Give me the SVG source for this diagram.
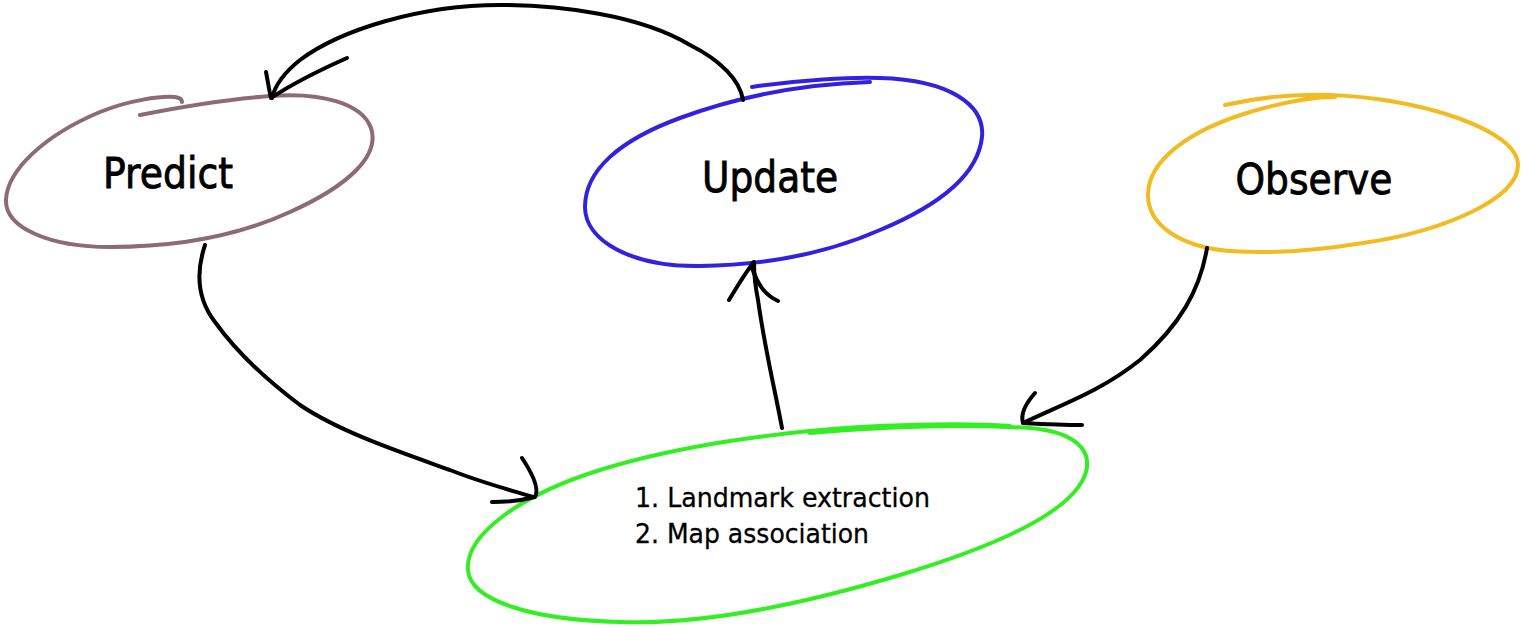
<svg xmlns="http://www.w3.org/2000/svg" width="1522" height="626" viewBox="0 0 1522 626">
<style>
.ring{fill:none;stroke-width:4;stroke-linecap:round;stroke-linejoin:round}
.edge{fill:none;stroke:#000;stroke-width:4;stroke-linecap:round;stroke-linejoin:round}
.big{font-family:"DejaVu Sans","Liberation Sans",sans-serif;font-size:43px;fill:#000;stroke:#000;stroke-width:0.9;text-anchor:middle}
.small{font-family:"DejaVu Sans","Liberation Sans",sans-serif;font-size:26px;fill:#000;stroke:#000;stroke-width:0.3}
</style>
<rect width="1522" height="626" fill="#fff"/>
<g id="predict">
<path class="ring" stroke="#8c6b75" d="M140,115 C190,105 230,99 270,96 C320,92 362,103 371,128 C380,155 350,185 290,212 C240,235 180,247 110,247 C50,247 5,228 6,200 C7,170 45,135 100,112 C130,100 160,96 175,97 C180,98 182,99 182,102"/>
<text class="big" x="168" y="188" textLength="130" lengthAdjust="spacingAndGlyphs">Predict</text>
</g>
<g id="update">
<path class="ring" stroke="#3322dd" d="M752,87 C800,80 850,77 880,78 C950,80 985,105 982,137 C978,175 940,205 880,230 C830,252 770,265 700,266 C630,267 585,240 585,207 C585,170 620,140 680,118 C740,96 800,84 870,82"/>
<text class="big" x="770" y="192" textLength="136" lengthAdjust="spacingAndGlyphs">Update</text>
</g>
<g id="observe">
<path class="ring" stroke="#f2bb22" d="M1225,105 C1260,97 1300,94 1330,95 C1420,98 1518,130 1518,165 C1518,200 1440,232 1363,243 C1320,250 1270,254 1230,251 C1180,247 1148,225 1148,195 C1148,160 1190,130 1250,112 C1280,103 1310,97 1335,97"/>
<text class="big" x="1314" y="194" textLength="157" lengthAdjust="spacingAndGlyphs">Observe</text>
</g>
<g id="process">
<path class="ring" stroke="#33ee22" d="M810,433 C880,427 960,424 1030,428 C1075,432 1092,450 1086,472 C1075,510 1000,545 900,575 C800,605 700,625 620,622 C530,620 470,600 468,570 C465,535 520,495 600,470 C680,445 780,432 860,427 C920,424 980,424 1010,426"/>
<text class="small" x="635" y="507" textLength="295" lengthAdjust="spacingAndGlyphs">1. Landmark extraction</text>
<text class="small" x="635" y="543" textLength="234" lengthAdjust="spacingAndGlyphs">2. Map association</text>
</g>
<g id="connectors">
<path class="edge" d="M743,100 C740,80 720,60 690,45 C640,15 560,5 500,5 C420,5 340,30 300,60 C285,72 275,85 272,98"/>
<path class="edge" d="M266,72 C268,82 269,90 271,98 C295,82 320,70 347,58"/>
<path class="edge" d="M205,245 C195,275 198,300 215,322 C235,350 260,375 300,405 C340,432 400,452 450,470 C480,482 510,490 533,497"/>
<path class="edge" d="M522,458 C530,470 540,488 535,497 C520,501 505,502 492,502"/>
<path class="edge" d="M782,428 C775,390 765,350 758,300 C755,285 754,272 754,262"/>
<path class="edge" d="M729,300 C737,287 745,273 754,262 M752,268 C758,285 765,295 778,301"/>
<path class="edge" d="M1207,248 C1200,290 1180,325 1140,360 C1100,392 1060,405 1023,423"/>
<path class="edge" d="M1035,393 C1027,402 1020,413 1023,423 C1042,424 1062,425 1082,425"/>
</g>
</svg>
